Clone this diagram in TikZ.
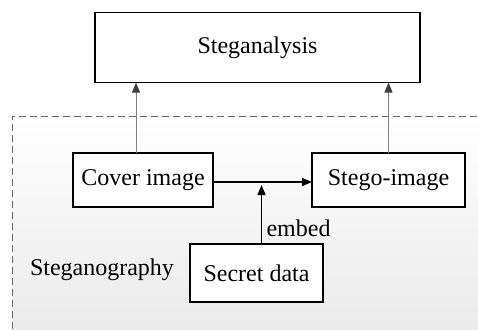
\documentclass[tikz,border=0pt]{standalone}
\usepackage{fontspec}
\setmainfont{Liberation Serif}
\usetikzlibrary{arrows.meta}

\begin{document}
\begin{tikzpicture}[
    x = 1pt, y = -1pt,
    font = \fontsize{24}{28}\selectfont,
    box/.style = {
      rectangle, draw, line width = 1.4pt, fill = white,
      inner sep = 0pt, outer sep = 0pt, anchor = center
    },
    up/.style = {
      draw = gray, line width = 0.9pt,
      -{Triangle[length = 10pt, width = 8pt, color = black!75]}
    },
    flow/.style = {
      line width = 1.4pt, -{Triangle[length = 10pt, width = 8pt]}
    }]
    \useasboundingbox (0,0) rectangle (478,329);
    % steganography area
    \shade [top color = white, bottom color = black!8] (12,116) rectangle (478,329);
    \draw [ draw = black!60, dash pattern = on 7pt off 4pt, line width = 0.8pt ]
      (12,329) -- (12,116) -- (478,116);
    \node (analysis) [box, minimum width = 325pt, minimum height = 70pt] at (257.5,47.5)
      {Steganalysis};
    \node (cover) [box, minimum width = 140pt, minimum height = 54pt] at (143,180)
      {Cover image};
    \node (stego) [box, minimum width = 153pt, minimum height = 54pt] at (388.5,180)
      {Stego-image};
    \node (secret) [box, minimum width = 133pt, minimum height = 58pt] at (256.5,273)
      {Secret data};
    \node (area) at (102,270) {Steganography};
    % arrows
    \draw [up] ([xshift = -7pt] cover.north) -- ([xshift = -7pt] cover.north |- analysis.south);
    \draw [up] (stego.north) -- (stego.north |- analysis.south);
    \draw [flow] ([yshift = -2pt] cover.east) -- ([yshift = -2pt] stego.west);
    \draw [flow] ([xshift = 5pt] secret.north)
      to node [pos = 0.27, anchor = west, xshift = 1pt] {embed}
      ([xshift = 5pt, yshift = -5pt] secret.north |- cover.east);
\end{tikzpicture}
\end{document}
